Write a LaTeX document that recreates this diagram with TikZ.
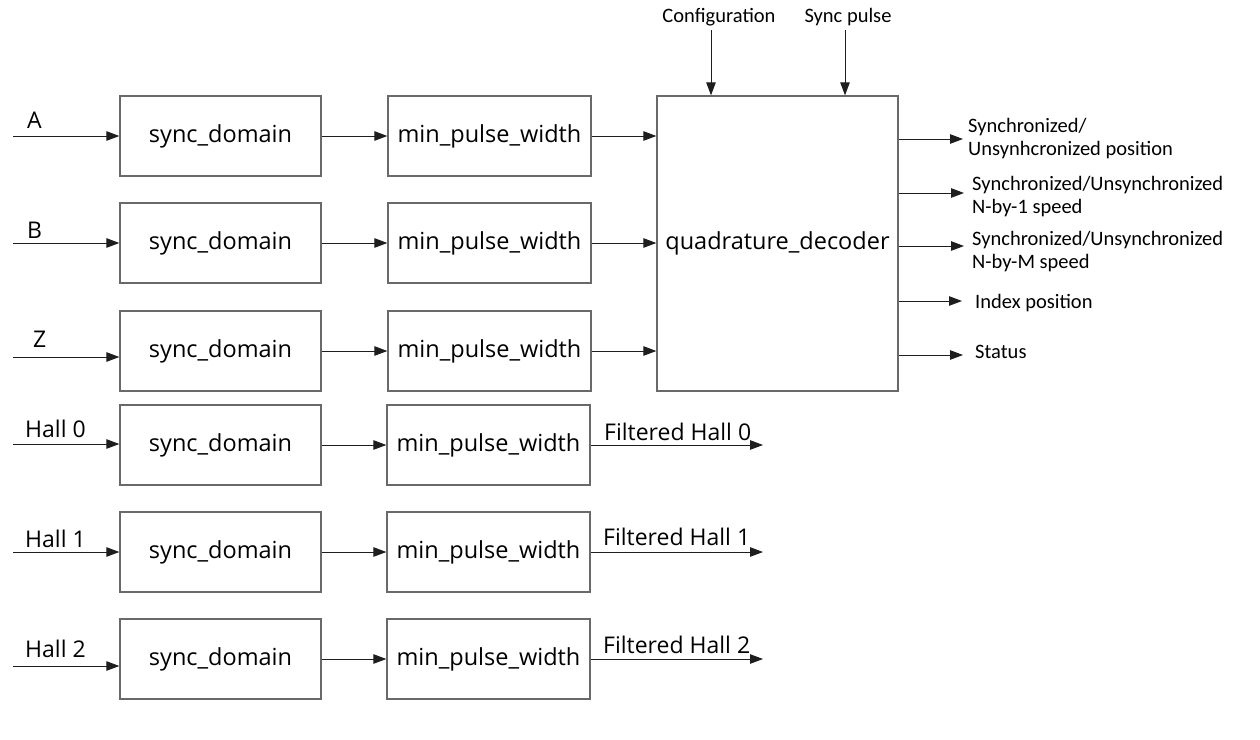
\documentclass[tikz,border=0pt]{standalone}
\usepackage{fontspec}
\setmainfont{Open Sans}
\newfontfamily\portfont{Carlito}
\usetikzlibrary{arrows.meta}
\definecolor{boxgray}{RGB}{105,105,105}
\definecolor{wire}{RGB}{30,30,30}
\begin{document}
\begin{tikzpicture}[x=1pt,y=-1pt,
  blk/.style={draw=boxgray, line width=1.3pt, inner sep=0pt, fill=white,
              font=\fontsize{23.5}{28}\selectfont},
  syncbox/.style={blk, minimum width=201pt, minimum height=80pt},
  pulsebox/.style={blk, minimum width=203pt, minimum height=80pt},
  quadbox/.style={blk, minimum width=241pt, minimum height=295pt},
  sig/.style={draw=wire, line width=1pt, -{Triangle[length=13pt,width=9.5pt]}},
  inlabel/.style={anchor=base west, inner sep=0pt, font=\fontsize{23}{27}\selectfont},
  portlabel/.style={anchor=base west, inner sep=0pt, font=\portfont\fontsize{20.5}{23}\selectfont},
  toplabel/.style={anchor=base, inner sep=0pt, font=\portfont\fontsize{20.5}{23}\selectfont}]
\useasboundingbox (0,0) rectangle (1260,739);

% ---- synchroniser stage ----
\node[syncbox] (sA)  at (220.5,136) {sync\_domain};
\node[syncbox] (sB)  at (220.5,243) {sync\_domain};
\node[syncbox] (sZ)  at (220.5,351) {sync\_domain};
\node[syncbox] (sH0) at (220.5,445) {sync\_domain};
\node[syncbox] (sH1) at (220.5,552) {sync\_domain};
\node[syncbox] (sH2) at (220.5,659) {sync\_domain};

% ---- glitch filter stage ----
\node[pulsebox] (pA)  at (489.5,136) {min\_pulse\_width};
\node[pulsebox] (pB)  at (489.5,243) {min\_pulse\_width};
\node[pulsebox] (pZ)  at (489.5,351) {min\_pulse\_width};
\node[pulsebox] (pH0) at (488.5,445) {min\_pulse\_width};
\node[pulsebox] (pH1) at (488.5,552) {min\_pulse\_width};
\node[pulsebox] (pH2) at (488.5,659) {min\_pulse\_width};

% ---- decoder ----
\node[quadbox] (qd) at (777.5,243.5) {quadrature\_decoder};

% ---- inputs ----
\coordinate (inA)  at (13,136);
\coordinate (inB)  at (13,243);
\coordinate (inZ)  at (13,357);
\coordinate (inH0) at (13,444);
\coordinate (inH1) at (13,552);
\coordinate (inH2) at (13,666);
\draw[sig] (inA)  -- (sA.west  |- inA);
\draw[sig] (inB)  -- (sB.west  |- inB);
\draw[sig] (inZ)  -- (sZ.west  |- inZ);
\draw[sig] (inH0) -- (sH0.west |- inH0);
\draw[sig] (inH1) -- (sH1.west |- inH1);
\draw[sig] (inH2) -- (sH2.west |- inH2);
\node[inlabel] (lA)  at (27,128) {A};
\node[inlabel] (lB)  at (27,238) {B};
\node[inlabel] (lZ)  at (33,347) {Z};
\node[inlabel] (lH0) at (25,437) {Hall 0};
\node[inlabel] (lH1) at (25,547) {Hall 1};
\node[inlabel] (lH2) at (25,657) {Hall 2};

% ---- sync -> filter ----
\foreach \r in {A,B,Z,H0,H1,H2}
  \draw[sig] (s\r.east) -- (p\r.west);

% ---- filter -> decoder ----
\draw[sig] (pA.east) -- (qd.west |- pA.east);
\draw[sig] (pB.east) -- (qd.west |- pB.east);
\draw[sig] (pZ.east) -- (qd.west |- pZ.east);

% ---- filtered hall outputs ----
\coordinate (fH0) at (763,445);
\coordinate (fH1) at (763,552);
\coordinate (fH2) at (763,659);
\draw[sig] (pH0.east) -- (fH0);
\draw[sig] (pH1.east) -- (fH1);
\draw[sig] (pH2.east) -- (fH2);
\node[inlabel] (lf0) at (604,440) {Filtered Hall 0};
\node[inlabel] (lf1) at (603,545) {Filtered Hall 1};
\node[inlabel] (lf2) at (603,653) {Filtered Hall 2};

% ---- decoder control inputs ----
\coordinate (cfg)  at (711,30);
\coordinate (sync) at (845,30);
\draw[sig] (cfg)  -- (qd.north -| cfg);
\draw[sig] (sync) -- (qd.north -| sync);
\node[toplabel] (lcfg)  at (719,22) {Configuration};
\node[toplabel] (lsync) at (848,22) {Sync pulse};

% ---- decoder outputs ----
\coordinate (o1) at (963,139);
\coordinate (o2) at (964,193);
\coordinate (o3) at (964,246);
\coordinate (o4) at (962,301);
\coordinate (o5) at (963,355);
\foreach \o in {o1,o2,o3,o4,o5}
  \draw[sig] (qd.east |- \o) -- (\o);
\node[portlabel] (l1a) at (968,132) {Synchronized/};
\node[portlabel] (l1b) at (968,155) {Unsynhcronized position};
\node[portlabel] (l2a) at (972,190) {Synchronized/Unsynchronized};
\node[portlabel] (l2b) at (972,213) {N-by-1 speed};
\node[portlabel] (l3a) at (972,245) {Synchronized/Unsynchronized};
\node[portlabel] (l3b) at (972,268) {N-by-M speed};
\node[portlabel] (l4)  at (975,308) {Index position};
\node[portlabel] (l5)  at (975,358) {Status};
\end{tikzpicture}
\end{document}
